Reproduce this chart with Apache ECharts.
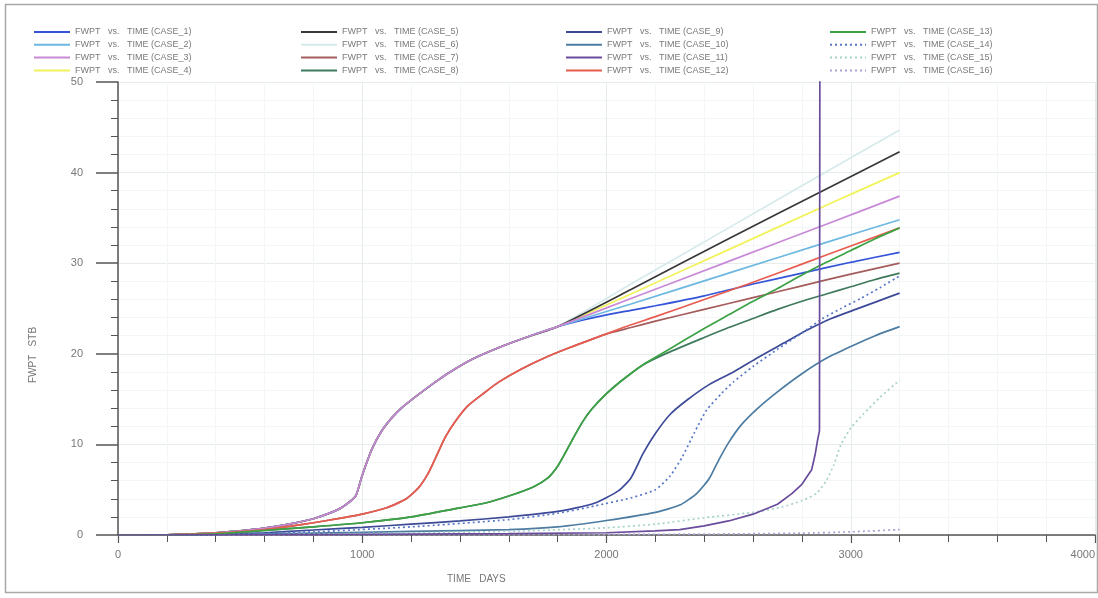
<!DOCTYPE html>
<html><head><meta charset="utf-8">
<script src="https://cdn.jsdelivr.net/npm/echarts@6/dist/echarts.min.js"></script>
<style>html,body{margin:0;padding:0;background:#fff}#c{width:1098px;height:598px}</style>
</head><body><div id="c"></div><script>
// ---- data: [day, FWPT] ----
const xTicks = [0, 1000, 2000, 3000, 4000];
const yTicks = [0, 10, 20, 30, 40, 50];

// shared early path of cases 1-6
const baseA = [[0,0],[200,0.03],[400,0.25],[500,0.45],[600,0.75],[700,1.2],[800,1.8],[900,2.8],[950,3.7],[975,4.4],[1000,6.6],[1040,9.5],[1080,11.5],[1120,12.9],[1160,14.0],[1220,15.3],[1300,16.9],[1360,18.0],[1450,19.4],[1560,20.7],[1670,21.8],[1800,23.0]];
const tail1 = [[1900,23.7],[2000,24.3],[2100,24.8],[2200,25.3],[2400,26.4],[2600,27.7],[2800,28.9],[3000,30.1],[3200,31.2]];
const tail2 = [[2100,25.5],[2500,28.9],[2900,32.3],[3200,34.8]];
const tail3 = [[2100,26.1],[2500,30.2],[2900,34.3],[3200,37.4]];
const tail4 = [[2100,26.6],[2500,31.5],[2900,36.4],[3200,40.0]];
const tail5 = [[2100,27.1],[2500,32.7],[2900,38.2],[3200,42.3]];
const tail6 = [[2100,27.7],[2500,33.9],[2900,40.1],[3200,44.7]];

// shared early path of cases 7 and 12
const baseB = [[0,0],[200,0.03],[400,0.2],[600,0.6],[700,0.95],[800,1.35],[900,1.8],[1000,2.3],[1100,3.0],[1180,4.0],[1230,5.2],[1270,6.8],[1300,8.5],[1340,10.8],[1380,12.5],[1430,14.2],[1500,15.7],[1560,16.9],[1650,18.3],[1750,19.6],[1850,20.7],[1950,21.7],[2000,22.2]];
const tail7 = [[2100,22.9],[2200,23.6],[2400,24.9],[2600,26.2],[2800,27.5],[3000,28.8],[3200,30.0]];
const tail12 = [[2100,23.2],[2200,24.1],[2380,25.8],[2600,27.9],[2800,29.9],[3000,31.9],[3200,33.9]];

// shared early path of cases 8 and 13
const baseC = [[0,0],[200,0.02],[400,0.12],[600,0.5],[800,0.9],[1000,1.35],[1200,2.0],[1400,3.0],[1500,3.5],[1600,4.3],[1700,5.3],[1760,6.3],[1800,7.6],[1830,9.0],[1860,10.5],[1900,12.4],[1940,13.9],[2000,15.6],[2060,17.0],[2150,18.8]];
const tail8 = [[2250,20.1],[2400,21.8],[2500,22.9],[2600,23.9],[2700,24.9],[2800,25.8],[2900,26.6],[3000,27.4],[3100,28.2],[3200,28.9]];
const tail13 = [[2250,20.4],[2400,22.8],[2500,24.3],[2600,25.8],[2700,27.2],[2800,28.7],[2900,30.1],[3000,31.4],[3100,32.7],[3200,33.9]];

const case9 = [[0,0],[200,0.01],[400,0.08],[600,0.25],[800,0.55],[1000,0.85],[1200,1.2],[1400,1.55],[1600,2.0],[1800,2.6],[1950,3.5],[2050,4.9],[2100,6.3],[2150,9.0],[2200,11.2],[2260,13.3],[2330,14.9],[2420,16.6],[2520,18.0],[2620,19.6],[2720,21.1],[2820,22.6],[2920,23.9],[3020,24.9],[3120,25.9],[3200,26.7]];
const case10 = [[0,0],[400,0.03],[800,0.2],[1200,0.4],[1600,0.6],[1800,0.9],[2000,1.6],[2200,2.5],[2300,3.3],[2370,4.6],[2420,6.2],[2460,8.3],[2500,10.2],[2550,12.1],[2620,14.0],[2700,15.8],[2800,17.8],[2900,19.5],[3000,20.8],[3100,22.0],[3200,23.0]];
const case11 = [[0,0],[800,0.05],[1600,0.15],[2000,0.25],[2200,0.45],[2300,0.6],[2400,1.0],[2500,1.55],[2600,2.3],[2700,3.4],[2760,4.6],[2800,5.6],[2840,7.2],[2855,9.0],[2865,10.6],[2872,11.5],[2876,120]];
const case14 = [[0,0],[400,0.05],[800,0.35],[1200,0.9],[1600,1.7],[1800,2.4],[1950,3.2],[2100,4.1],[2200,5.0],[2260,6.5],[2310,8.6],[2360,11.3],[2410,13.8],[2470,15.6],[2520,16.9],[2600,18.6],[2700,20.5],[2800,22.3],[2880,23.8],[2960,25.0],[3040,26.1],[3120,27.3],[3200,28.6]];
const case15 = [[0,0],[800,0.1],[1600,0.4],[2000,0.8],[2200,1.2],[2400,1.9],[2600,2.5],[2720,3.1],[2800,3.8],[2860,4.6],[2900,6.0],[2930,7.7],[2960,10.0],[3000,11.8],[3050,13.3],[3120,15.2],[3200,17.1]];
const case16 = [[0,0],[1600,0.02],[2400,0.1],[2800,0.2],[3000,0.35],[3200,0.6]];

const caseData = [
  baseA.concat(tail1), baseA.concat(tail2), baseA.concat(tail3), baseA.concat(tail4),
  baseA.concat(tail5), baseA.concat(tail6), baseB.concat(tail7), baseC.concat(tail8),
  case9, case10, case11, baseB.concat(tail12),
  baseC.concat(tail13), case14, case15, case16
];
const caseNames = caseData.map((d, i) => 'FWPT   vs.   TIME (CASE_' + (i + 1) + ')');

// ---- styles ----
const caseColors = ['#3554d8','#6cb8e2','#c88ad8','#f2f25a','#383838','#d6eaec','#a45c5c','#3f7a5c',
                    '#3c4a98','#4c7ca2','#6a4c9c','#e85c50','#3ca244','#5a78c8','#a6d2c8','#aaa2d2'];
const caseType = ['solid','solid','solid','solid','solid','solid','solid','solid',
                  'solid','solid','solid','solid','solid',[2,3],[2,3],[2,3]];
const caseZ = [3,3,6,3,3,2,3,3,4,4,7,6,6,5,4,4];

const series = caseData.map((d, i) => ({
  name: caseNames[i],
  type: 'line',
  data: d,
  symbol: 'none',
  smooth: i === 10 ? false : 0.2,
  clip: true,
  lineStyle: { color: caseColors[i], width: 1.7, type: caseType[i] },
  itemStyle: { color: caseColors[i] },
  z: caseZ[i]
}));

const legendLefts = [33, 300, 565, 829];
const legends = legendLefts.map((lx, c) => ({
  orient: 'vertical',
  left: lx,
  top: 27,
  padding: 0,
  itemGap: 2.8,
  itemWidth: 36,
  itemHeight: 10,
  selectedMode: false,
  itemStyle: { opacity: 0 },
  lineStyle: { width: 2 },
  data: caseNames.slice(c * 4, c * 4 + 4),
  textStyle: { fontSize: 9, color: '#7a7a7a', fontFamily: 'Liberation Sans', lineHeight: 10 }
}));

const chart = echarts.init(document.getElementById('c'), null, { renderer: 'canvas' });
chart.setOption({
  animation: false,
  backgroundColor: '#ffffff',
  legend: legends,
  grid: { left: 118, right: 2, top: 82, bottom: 63, containLabel: false },
  xAxis: {
    type: 'value', min: xTicks[0], max: xTicks[xTicks.length - 1], interval: 1000,
    axisLine: { show: true, onZero: false, lineStyle: { color: '#555', width: 1.5 } },
    axisTick: { show: true, inside: false, length: 8, lineStyle: { color: '#555', width: 1.2 } },
    minorTick: { show: true, splitNumber: 5, length: 7, lineStyle: { color: '#555', width: 1 } },
    axisLabel: { margin: 14, fontSize: 11, color: '#777', fontFamily: 'Liberation Sans', alignMaxLabel: 'right',
                 formatter: v => xTicks.includes(v) ? String(v) : '' },
    splitLine: { show: true, lineStyle: { color: '#e6ecec', width: 1 } },
    minorSplitLine: { show: true, lineStyle: { color: '#f3f6f6', width: 1 } }
  },
  yAxis: {
    type: 'value', min: yTicks[0], max: yTicks[yTicks.length - 1], interval: 10,
    axisLine: { show: true, onZero: false, lineStyle: { color: '#555', width: 1.5 } },
    axisTick: { show: true, inside: false, length: 22, lineStyle: { color: '#555', width: 1.5 } },
    minorTick: { show: true, splitNumber: 5, length: 7, lineStyle: { color: '#555', width: 1 } },
    axisLabel: { margin: 35, fontSize: 11, color: '#777', fontFamily: 'Liberation Sans',
                 formatter: v => yTicks.includes(v) ? String(v) : '' },
    splitLine: { show: true, lineStyle: { color: '#e6ecec', width: 1 } },
    minorSplitLine: { show: true, lineStyle: { color: '#f3f6f6', width: 1 } }
  },
  graphic: [
    { type: 'rect', silent: true, z: -1, shape: { x: 5.5, y: 4.5, width: 1092, height: 588 },
      style: { fill: 'none', stroke: '#a8a8a8', lineWidth: 1.5 } },
    { type: 'text', left: 447, top: 574, silent: true,
      style: { text: 'TIME   DAYS', fontSize: 10, fill: '#777', fontFamily: 'Liberation Sans' } },
    { type: 'text', x: 33, y: 355, rotation: Math.PI / 2, silent: true,
      style: { text: 'FWPT   STB', fontSize: 10, fill: '#777', fontFamily: 'Liberation Sans', align: 'center', verticalAlign: 'middle' } }
  ],
  series: series
});
</script></body></html>
